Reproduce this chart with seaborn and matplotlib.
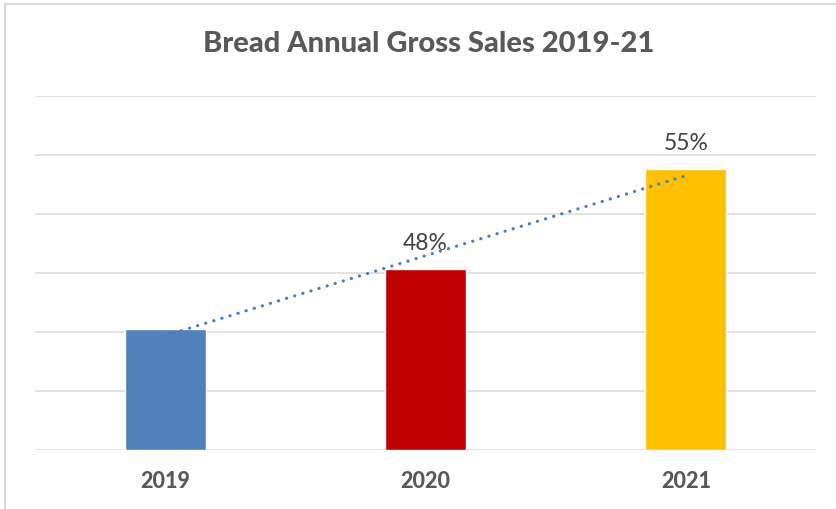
import numpy as np
import pandas as pd
import matplotlib
matplotlib.use("Agg")
import matplotlib.pyplot as plt
from matplotlib.lines import Line2D
import seaborn as sns

# ---- data ----
years = ["2019", "2020", "2021"]
sales = [2.05, 3.07, 4.76]            # relative units (no y-axis labels shown)
bar_labels = ["", "48%", "55%"]
colors = ["#4F81BD", "#C00000", "#FFC000"]
title = "Bread Annual Gross Sales 2019-21"

sns.set_style("white")
plt.rcParams["font.family"] = ["Lato", "DejaVu Sans"]

W, H = 836, 510
fig = plt.figure(figsize=(W / 100, H / 100), dpi=100)
ax = fig.add_axes([35 / W, 1 - 451 / H, 781 / W, (451 - 97) / H])

df = pd.DataFrame({"year": years, "sales": sales})
sns.barplot(data=df, x="year", y="sales", hue="year", palette=colors,
            width=0.31, legend=False, ax=ax, zorder=3, saturation=1)

ax.set_ylim(0, 6)
ax.set_xlim(-0.5, 2.5)
ax.set_yticks(range(0, 7))
ax.yaxis.grid(True, color="#D9D9D9", linewidth=1.1, zorder=0)
ax.set_axisbelow(True)
ax.tick_params(axis="y", left=False, labelleft=False)
ax.tick_params(axis="x", bottom=False, pad=11)
for s in ax.spines.values():
    s.set_visible(False)
ax.set_xlabel("")
ax.set_ylabel("")
for lbl in ax.get_xticklabels():
    lbl.set_fontweight("black")
    lbl.set_fontsize(15.5)
    lbl.set_color("#595959")

# linear trendline
xs = np.arange(len(sales))
coef = np.polyfit(xs, sales, 1)
ax.plot([xs[0], xs[-1]], np.polyval(coef, [xs[0], xs[-1]]),
        color="#4A7EBB", linewidth=2.3, linestyle=(0, (0.05, 2.6)),
        dash_capstyle="round", zorder=4)

# data labels
for i, (v, t) in enumerate(zip(sales, bar_labels)):
    if t:
        ax.annotate(t, (i, v), xytext=(0, 19), textcoords="offset points",
                    ha="center", va="center", fontsize=16.5, color="#404040",
                    zorder=5)

fig.text(428.5 / W, 1 - 44 / H, title, ha="center", va="center",
         fontsize=21, fontweight="black", color="#595959")

# partial chart border (top & left)
fig.add_artist(Line2D([5 / W, 5 / W], [0, 1 - 5 / H], color="#D9D9D9", linewidth=1.5))
fig.add_artist(Line2D([5 / W, 1], [1 - 5 / H, 1 - 5 / H], color="#D9D9D9", linewidth=1.5))

fig.savefig("out.png", dpi=100)
